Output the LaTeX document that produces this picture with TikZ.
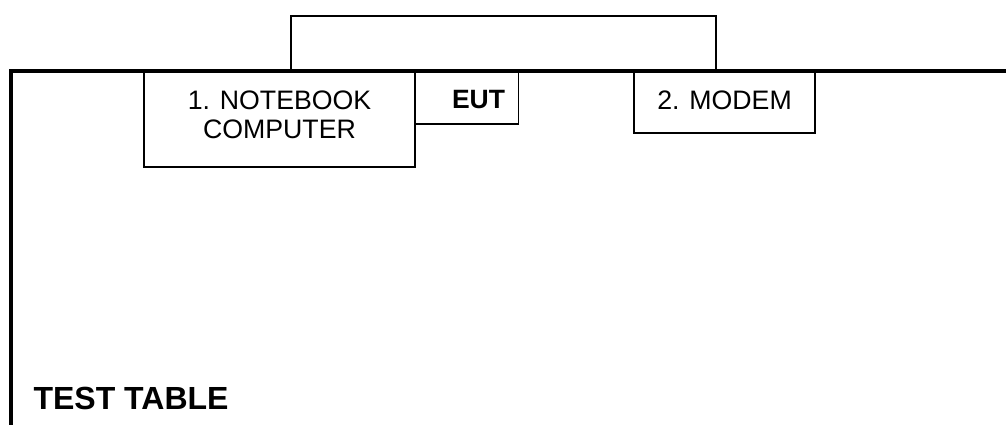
\documentclass[tikz,border=0pt]{standalone}
\usepackage{fontspec}
\setmainfont{Liberation Sans}
\begin{document}
\begin{tikzpicture}[x=1pt,y=-1pt,
  box/.style={draw,line width=1.5pt,inner sep=0pt,rectangle},
  lbl/.style={inner sep=0pt,align=center,font=\fontsize{26.7}{29.6}\selectfont},
  lblbold/.style={lbl,font=\fontsize{26.5}{29.6}\selectfont\bfseries},
  tableline/.style={line width=4pt},
  cable/.style={line width=1.5pt}]
\useasboundingbox (0,0) rectangle (1006,425);

% test table edges
\coordinate (tr) at (1006,71);
\coordinate (tc) at (11,71);
\coordinate (bl) at (11,427);

% devices
\node[box,minimum width=271pt,minimum height=95pt] (nb) at (279.5,119.5) {};
\node[lbl] (nbtxt) at (279.5,115) {1. NOTEBOOK\\COMPUTER};
\node[box,minimum width=104pt,minimum height=53pt] (eut) at (466.5,97.5) {};
\node[lblbold] (euttxt) at (478.5,100) {EUT};
\node[box,minimum width=181pt,minimum height=62pt] (modem) at (724.5,102) {};
\node[lbl] (modemtxt) at (724.5,100) {2. MODEM};

\draw[tableline] (tr) -- (tc) -- (bl);

% cable between computer and modem
\coordinate (ca) at (291,71);
\coordinate (cb) at (716,71);
\draw[cable] (ca) |- (503.5,16) -| (cb);

\node[inner sep=0pt,font=\fontsize{32}{38}\selectfont\bfseries] (tt) at (131,398.5) {TEST TABLE};
\end{tikzpicture}
\end{document}
